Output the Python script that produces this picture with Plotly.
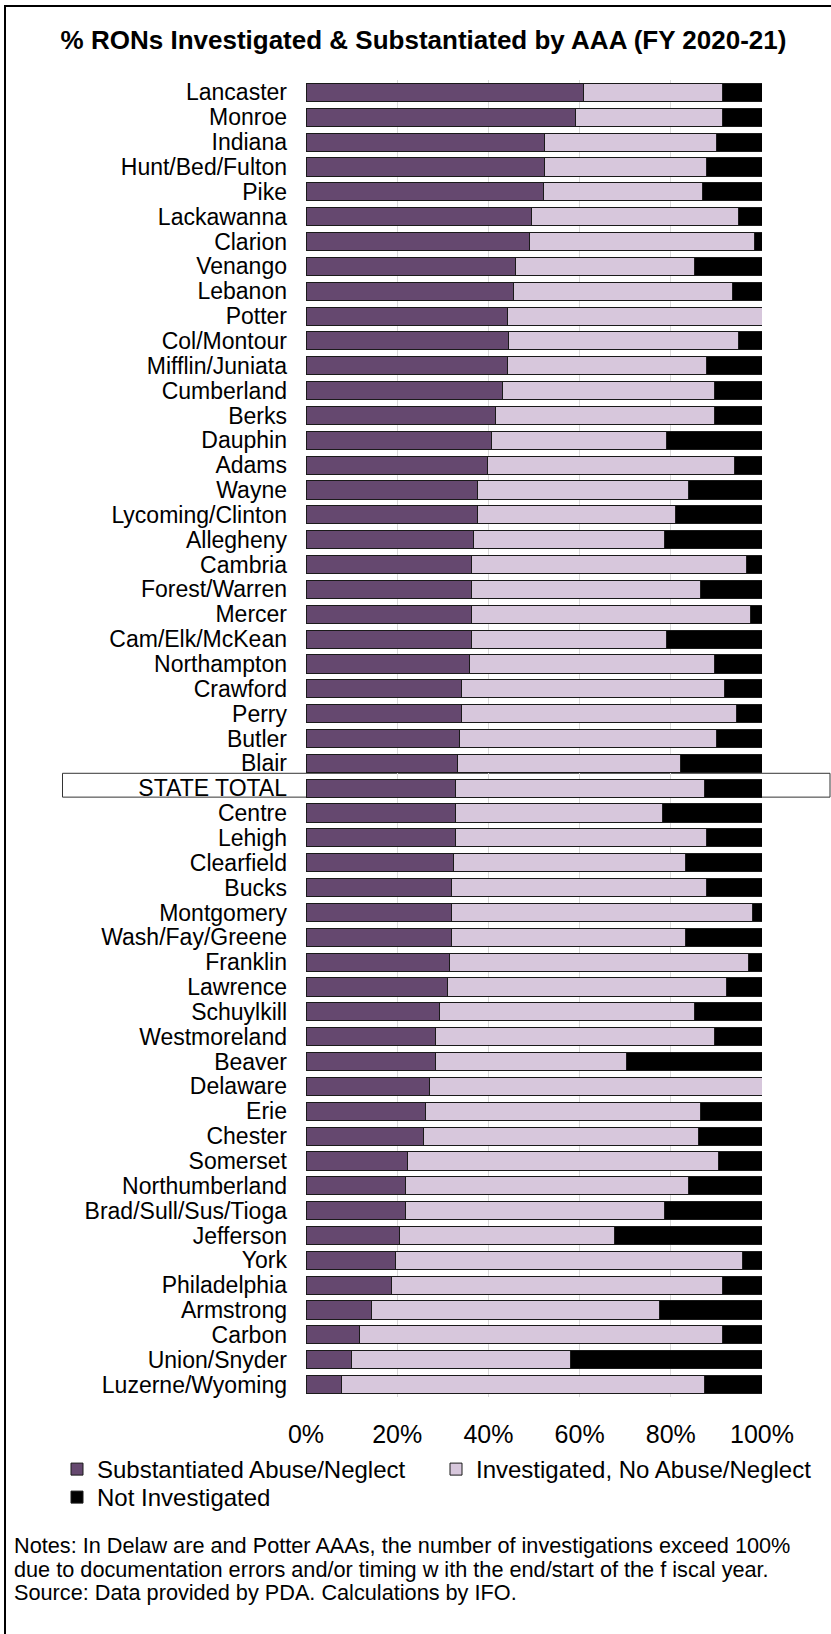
import plotly.graph_objects as go

# ---------------- data ----------------
categories = [
    "Lancaster", "Monroe", "Indiana", "Hunt/Bed/Fulton", "Pike", "Lackawanna",
    "Clarion", "Venango", "Lebanon", "Potter", "Col/Montour", "Mifflin/Juniata",
    "Cumberland", "Berks", "Dauphin", "Adams", "Wayne", "Lycoming/Clinton",
    "Allegheny", "Cambria", "Forest/Warren", "Mercer", "Cam/Elk/McKean",
    "Northampton", "Crawford", "Perry", "Butler", "Blair", "STATE TOTAL",
    "Centre", "Lehigh", "Clearfield", "Bucks", "Montgomery", "Wash/Fay/Greene",
    "Franklin", "Lawrence", "Schuylkill", "Westmoreland", "Beaver", "Delaware",
    "Erie", "Chester", "Somerset", "Northumberland", "Brad/Sull/Sus/Tioga",
    "Jefferson", "York", "Philadelphia", "Armstrong", "Carbon", "Union/Snyder",
    "Luzerne/Wyoming",
]

substantiated = [
    60.8, 59.1, 52.4, 52.4, 52.1, 49.4,
    49.0, 45.9, 45.5, 44.2, 44.5, 44.2,
    43.2, 41.6, 40.7, 39.7, 37.6, 37.6,
    36.7, 36.2, 36.2, 36.2, 36.2,
    35.8, 34.1, 34.1, 33.7, 33.2, 32.8,
    32.8, 32.8, 32.3, 31.9, 31.9, 31.9,
    31.5, 31.0, 29.3, 28.3, 28.3, 27.0,
    26.2, 25.8, 22.3, 21.8, 21.8,
    20.5, 19.6, 18.8, 14.3, 11.7, 9.9,
    7.7,
]

investigated_no = [
    30.5, 32.2, 37.6, 35.4, 34.8, 45.4,
    49.4, 39.2, 48.0, 55.8, 50.3, 43.6,
    46.3, 47.9, 38.3, 54.2, 46.2, 43.5,
    41.9, 60.4, 50.3, 61.2, 42.8,
    53.7, 57.6, 60.3, 56.3, 48.9, 54.5,
    45.3, 55.0, 51.0, 55.9, 66.0, 51.4,
    65.5, 61.2, 55.8, 61.2, 41.9, 73.0,
    60.3, 60.2, 68.1, 62.0, 56.8,
    47.1, 76.1, 72.5, 63.3, 79.6, 48.0,
    79.6,
]

not_investigated = [
    8.7, 8.7, 10.0, 12.2, 13.1, 5.2,
    1.6, 14.9, 6.5, 0.0, 5.2, 12.2,
    10.5, 10.5, 21.0, 6.1, 16.2, 18.9,
    21.4, 3.4, 13.5, 2.6, 21.0,
    10.5, 8.3, 5.6, 10.0, 17.9, 12.7,
    21.9, 12.2, 16.7, 12.2, 2.1, 16.7,
    3.0, 7.8, 14.9, 10.5, 29.8, 0.0,
    13.5, 14.0, 9.6, 16.2, 21.4,
    32.4, 4.3, 8.7, 22.4, 8.7, 42.1,
    12.7,
]

series_names = ["Substantiated Abuse/Neglect", "Investigated, No Abuse/Neglect", "Not Investigated"]
series_colors = ["#65486F", "#D7C7DC", "#000000"]
series_legends = ["legend", "legend", "legend2"]

x_ticks = [0, 20, 40, 60, 80, 100]
x_tick_labels = ["0%", "20%", "40%", "60%", "80%", "100%"]

title_text = "% RONs Investigated &amp; Substantiated by AAA (FY 2020-21)"
notes_lines = [
    "Notes: In Delaw are and Potter AAAs, the number of investigations exceed 100%",
    "due to documentation errors and/or timing w ith the end/start of the f iscal year.",
    "Source: Data provided by PDA. Calculations by IFO.",
]

# ---------------- geometry ----------------
W, H = 831, 1634
ML, MR, MT, MB = 306, 69, 80, 237
PW = W - ML - MR
PH = H - MT - MB


def px(x):
    return (x - ML) / PW


def py(y):
    return (H - MB - y) / PH


FONT = "Liberation Sans, Arial, sans-serif"

fig = go.Figure()
for name, vals, col, lg in zip(series_names, [substantiated, investigated_no, not_investigated],
                               series_colors, series_legends):
    fig.add_trace(go.Bar(
        y=categories, x=vals, name=name, orientation="h", legend=lg,
        marker=dict(color=col, line=dict(color="#1a1a1a", width=1)),
    ))

state_idx = categories.index("STATE TOTAL")

shapes = [
    # outer frame (left and top edges)
    dict(type="line", xref="paper", yref="paper", x0=px(5), x1=px(5), y0=py(5), y1=py(H + 5),
         line=dict(color="black", width=2), layer="above"),
    dict(type="line", xref="paper", yref="paper", x0=px(4), x1=px(W + 5), y0=py(6), y1=py(6),
         line=dict(color="black", width=2), layer="above"),
    # STATE TOTAL highlight box
    dict(type="rect", xref="paper", yref="y", x0=px(62.5), x1=px(830),
         y0=state_idx - 0.6, y1=state_idx + 0.36,
         line=dict(color="#333333", width=1), fillcolor="rgba(0,0,0,0)", layer="below"),
]

annotations = []
note_y = [1545, 1569, 1592]
for line, yy in zip(notes_lines, note_y):
    annotations.append(dict(
        text=line, xref="paper", yref="paper", x=px(12), y=py(yy),
        xanchor="left", yanchor="middle", showarrow=False,
        font=dict(family=FONT, size=21.7, color="black"),
    ))

legend_common = dict(
    orientation="h", xanchor="left", yanchor="top",
    entrywidth=334, entrywidthmode="pixels", traceorder="normal",
    font=dict(family=FONT, size=24, color="black"),
    bgcolor="rgba(0,0,0,0)",
)

fig.update_layout(
    width=W, height=H,
    margin=dict(l=ML, r=MR, t=MT, b=MB, autoexpand=False),
    paper_bgcolor="white", plot_bgcolor="rgba(0,0,0,0)",
    barmode="stack", bargap=0.27,
    font=dict(family=FONT, color="black"),
    title=dict(
        text="<b>" + title_text + "</b>", xref="container", yref="container",
        x=423.5 / W, y=1 - 40 / H, xanchor="center", yanchor="middle",
        font=dict(family=FONT, size=26, color="black"),
    ),
    xaxis=dict(
        range=[0, 100], tickmode="array", tickvals=x_ticks, ticktext=x_tick_labels,
        showgrid=True, gridcolor="#d9d9d9", gridwidth=1, zeroline=False,
        showline=False, ticks="", ticklabelstandoff=20,
        tickfont=dict(family=FONT, size=25, color="black"),
        fixedrange=True,
    ),
    yaxis=dict(
        type="category", autorange="reversed", showgrid=False, zeroline=False,
        tickmode="array", tickvals=categories, ticktext=categories,
        showline=False, ticks="", ticklabelstandoff=18,
        tickfont=dict(family=FONT, size=23, color="black"),
        fixedrange=True,
    ),
    legend=dict(x=px(57), y=py(1447), **legend_common),
    legend2=dict(x=px(57), y=py(1475), **legend_common),
    shapes=shapes,
    annotations=annotations,
    showlegend=True,
)

fig.write_html("out.html")
